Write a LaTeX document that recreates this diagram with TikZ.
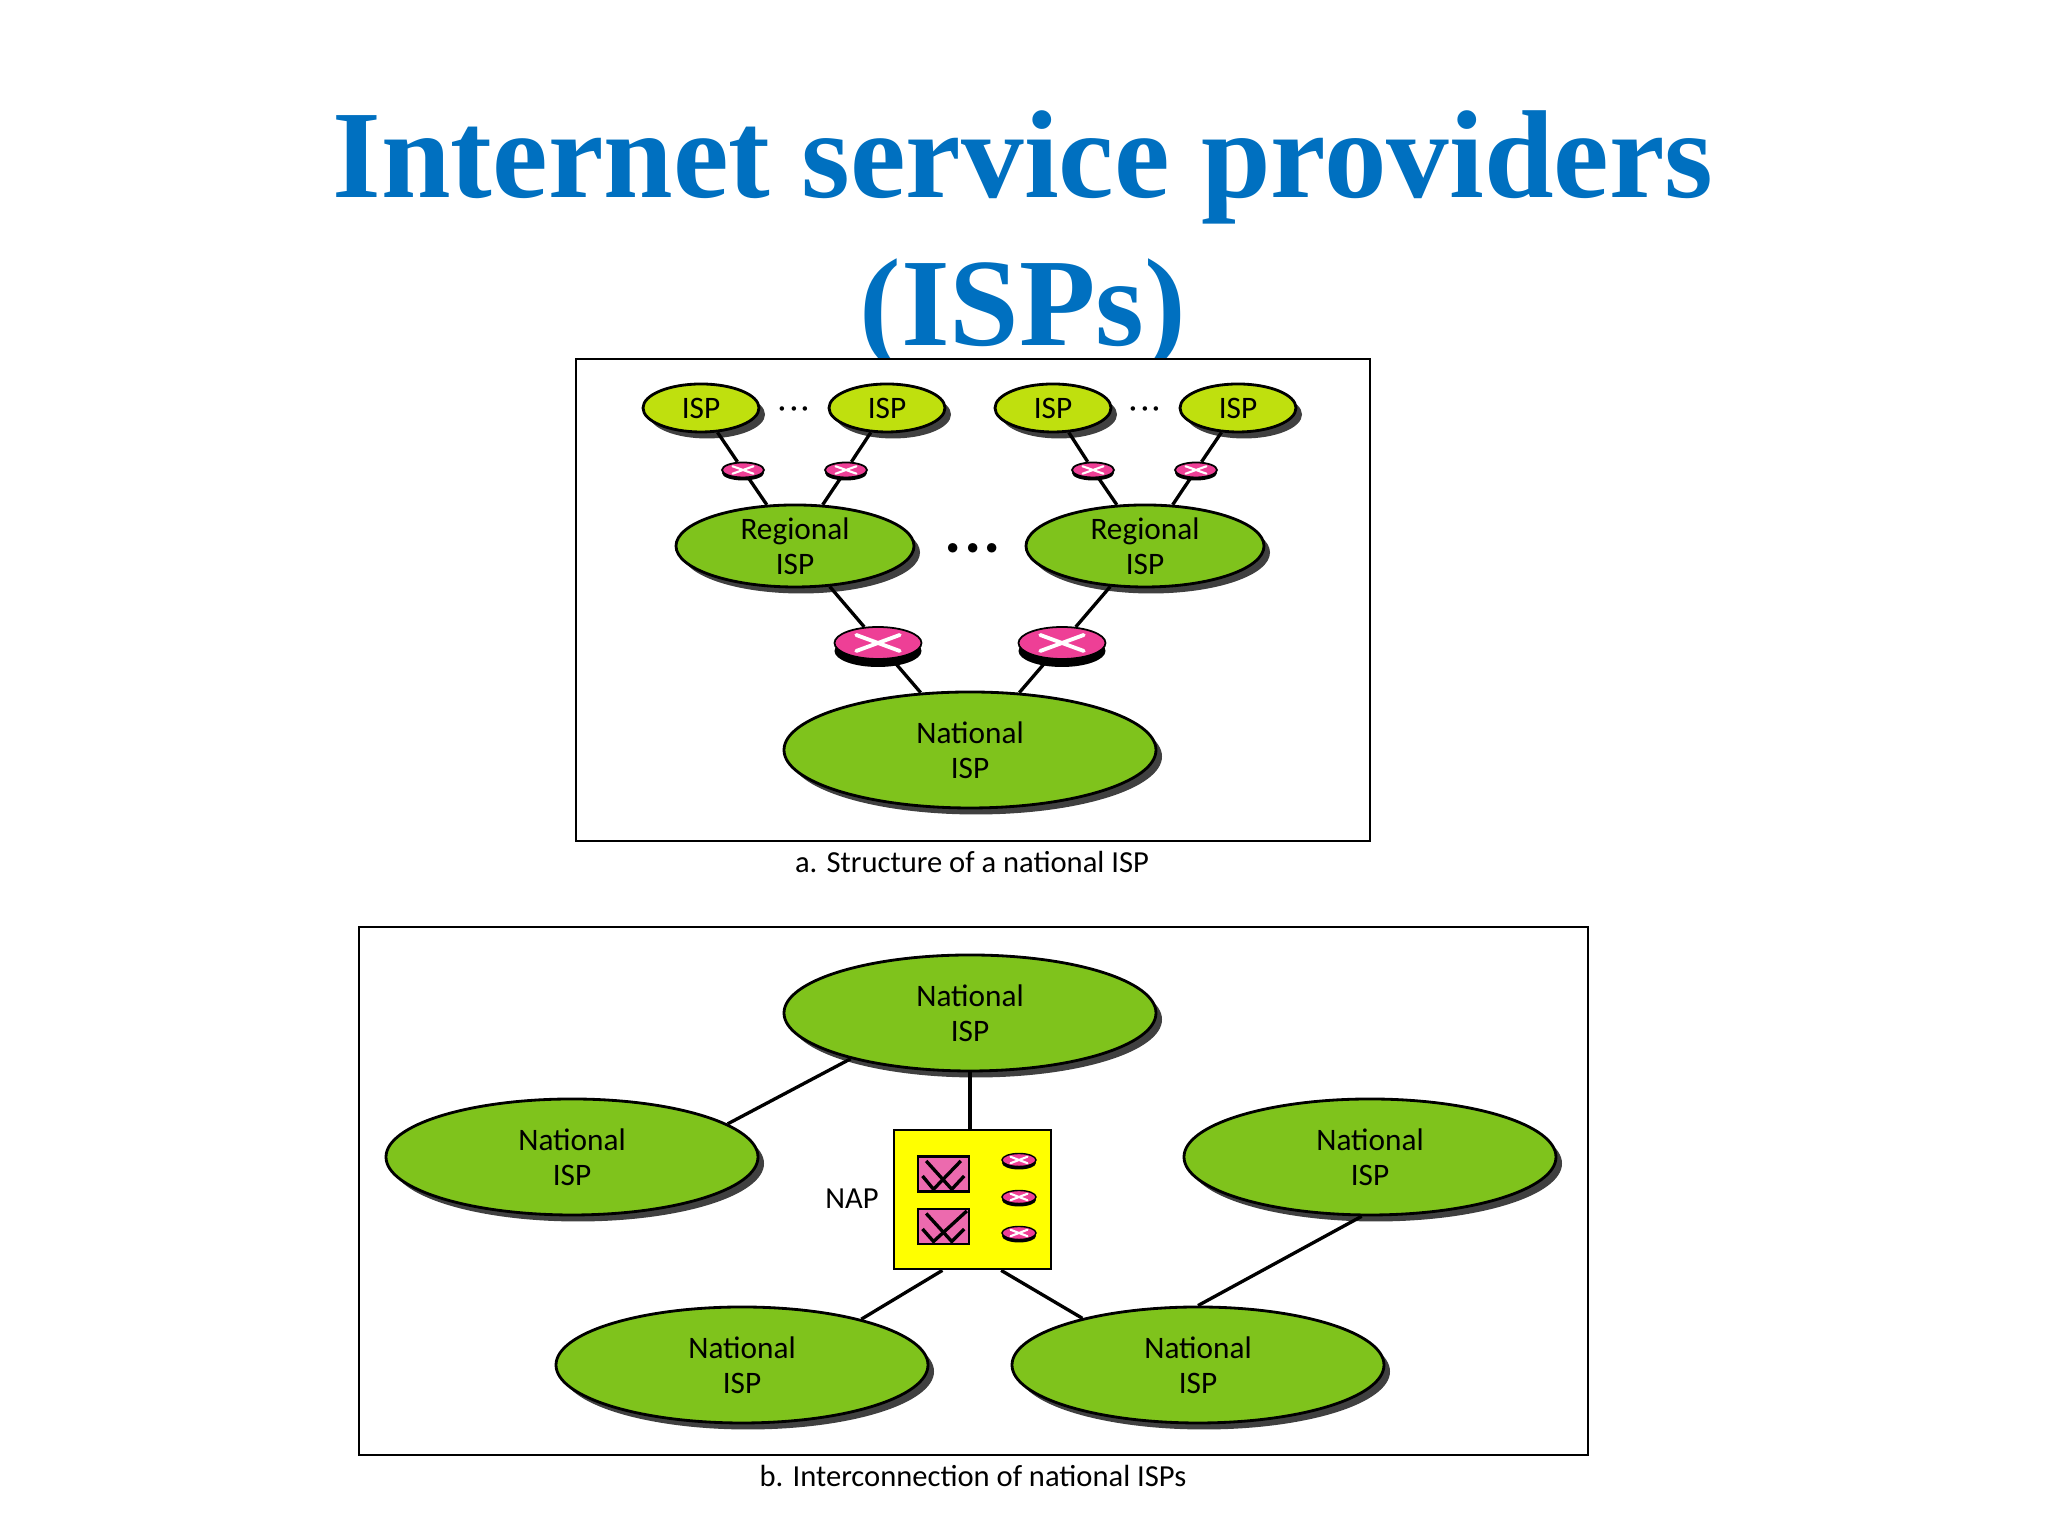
\documentclass[tikz,border=0pt]{standalone}
\usepackage{fontspec}
\setmainfont{Carlito}
\newfontfamily\titlefont{Liberation Serif}
\usetikzlibrary{shapes.geometric,shadows,calc}
\definecolor{titleblue}{HTML}{0070C0}
\definecolor{ispgreen}{HTML}{7FC31C}
\definecolor{limegreen}{HTML}{BFE00E}
\definecolor{rosepink}{HTML}{EE3F96}
\definecolor{boxpink}{HTML}{EC6AAE}
\definecolor{napyellow}{HTML}{FFFF00}
\tikzset{
  panel/.style={shape=rectangle, draw=black, fill=white, line width=0.7pt, inner sep=0pt},
  figlabel/.style={font=\fontsize{8.7}{10}\selectfont},
  headline/.style={text=titleblue, font=\titlefont\bfseries\fontsize{35.6}{36}\selectfont},
  ispshape/.style={shape=ellipse, draw=black, line width=0.8pt, inner sep=0pt, align=center, font=\fontsize{8.9}{10}\selectfont, general shadow={shadow xshift=0.06cm, shadow yshift=-0.065cm, fill=black!75}},
  localisp/.style={ispshape, fill=limegreen, minimum width=1.16cm, minimum height=0.48cm},
  regional/.style={ispshape, fill=ispgreen, minimum width=2.38cm, minimum height=0.82cm},
  national/.style={ispshape, fill=ispgreen, minimum width=3.72cm, minimum height=1.16cm},
  crossed/.style={path picture={\draw[white, line cap=round, line width=#1] ($(path picture bounding box.north west)!.25!(path picture bounding box.south east)$) -- ($(path picture bounding box.north west)!.75!(path picture bounding box.south east)$) ($(path picture bounding box.south west)!.25!(path picture bounding box.north east)$) -- ($(path picture bounding box.south west)!.75!(path picture bounding box.north east)$);}},
  smallrouter/.style={shape=ellipse, draw=black, line width=0.5pt, fill=rosepink, inner sep=0pt, minimum width=0.42cm, minimum height=0.15cm, crossed=0.6pt, general shadow={shadow yshift=-0.03cm, fill=black}},
  bigrouter/.style={shape=ellipse, draw=black, line width=0.5pt, fill=rosepink, inner sep=0pt, minimum width=0.87cm, minimum height=0.32cm, crossed=1.1pt, general shadow={shadow yshift=-0.08cm, fill=black}},
  naprouter/.style={shape=ellipse, draw=black, line width=0.4pt, fill=rosepink, inner sep=0pt, minimum width=0.34cm, minimum height=0.13cm, crossed=0.6pt, general shadow={shadow yshift=-0.03cm, fill=black}},
  switchbox/.style={shape=rectangle, draw=black, line width=0.8pt, fill=boxpink, inner sep=0pt, minimum width=0.51cm, minimum height=0.35cm},
  link/.style={line width=0.95pt, draw=black},
  dotsrow/.style={inner sep=0pt}
}
\begin{document}
\begin{tikzpicture}
\useasboundingbox (0,0) rectangle (20.48,15.36);
\node[headline] (title1) at (10.23,13.69) {Internet service providers};
\node[headline] (title2) at (10.23,12.21) {(ISPs)};
\node[panel, minimum width=7.94cm, minimum height=4.82cm] (boxa) at (9.73,9.36) {};
\node[panel, minimum width=12.29cm, minimum height=5.28cm] (boxb) at (9.735,3.45) {};
\node[figlabel] (capa) at (9.72,6.74) {a. Structure of a national ISP};
\node[figlabel] (capb) at (9.73,0.60) {b. Interconnection of national ISPs};
\node[localisp] (isp1) at (7.01,11.28) {ISP};
\node[localisp] (isp2) at (8.87,11.28) {ISP};
\node[localisp] (isp3) at (10.53,11.28) {ISP};
\node[localisp] (isp4) at (12.38,11.28) {ISP};
\node[dotsrow, font=\fontsize{12}{12}\selectfont] (dots1) at (7.94,11.26) {${\cdot}{\cdot}{\cdot}$};
\node[dotsrow, font=\fontsize{12}{12}\selectfont] (dots2) at (11.45,11.26) {${\cdot}{\cdot}{\cdot}$};
\node[smallrouter] (rt1) at (7.43,10.66) {};
\node[smallrouter] (rt2) at (8.46,10.66) {};
\node[smallrouter] (rt3) at (10.93,10.66) {};
\node[smallrouter] (rt4) at (11.96,10.66) {};
\node[regional] (reg1) at (7.95,9.90) {Regional\\ISP};
\node[regional] (reg2) at (11.45,9.90) {Regional\\ISP};
\node[dotsrow, font=\fontsize{16}{16}\selectfont\boldmath] (dots3) at (9.73,9.87) {${\cdot}{\cdot}{\cdot}$};
\node[bigrouter] (rt5) at (8.78,8.93) {};
\node[bigrouter] (rt6) at (10.62,8.93) {};
\node[national] (nat) at (9.70,7.86) {National\\ISP};
\node[national] (ntop) at (9.70,5.23) {National\\ISP};
\node[national] (nleft) at (5.72,3.79) {National\\ISP};
\node[national] (nright) at (13.70,3.79) {National\\ISP};
\node[national] (nbl) at (7.42,1.71) {National\\ISP};
\node[national] (nbr) at (11.98,1.71) {National\\ISP};
\node[shape=rectangle, draw=black, line width=0.8pt, fill=napyellow, minimum width=1.57cm, minimum height=1.39cm] (nap) at (9.725,3.365) {};
\node[figlabel] (naplabel) at (8.52,3.37) {NAP};
\node[switchbox] (sw1) at (9.435,3.62) {};
\node[switchbox] (sw2) at (9.435,3.095) {};
\node[naprouter] (rt7) at (10.19,3.76) {};
\node[naprouter] (rt8) at (10.19,3.39) {};
\node[naprouter] (rt9) at (10.19,3.03) {};
\draw[link] ([shift={(-0.173,0.13)}]sw1.center) -- ([shift={(0.083,-0.153)}]sw1.center) -- ([shift={(0.207,-0.02)}]sw1.center);
\draw[link] ([shift={(0.173,0.13)}]sw1.center) -- ([shift={(-0.10,-0.153)}]sw1.center) -- ([shift={(-0.21,-0.02)}]sw1.center);
\draw[link] ([shift={(-0.173,0.13)}]sw2.center) -- ([shift={(0.083,-0.15)}]sw2.center) -- ([shift={(0.207,-0.025)}]sw2.center);
\draw[link] ([shift={(0.233,0.155)}]sw2.center) -- ([shift={(-0.10,-0.15)}]sw2.center) -- ([shift={(-0.21,-0.025)}]sw2.center);
\path [-,link] (isp1) edge (rt1);
\path [-,link] (isp2) edge (rt2);
\path [-,link] (isp3) edge (rt3);
\path [-,link] (isp4) edge (rt4);
\path [-,link] (rt1) edge (reg1);
\path [-,link] (rt2) edge (reg1);
\path [-,link] (rt3) edge (reg2);
\path [-,link] (rt4) edge (reg2);
\path [-,link] (reg1) edge (rt5);
\path [-,link] (reg2) edge (rt6);
\path [-,link] (rt5) edge (nat);
\path [-,link] (rt6) edge (nat);
\path [-,link] (ntop.201) edge (nleft.12);
\path [-,link] (ntop.south) edge (ntop.south |- nap.north);
\path [-,link] (nap.247) edge (nbl.21);
\path [-,link] (nap.292) edge (nbr.158);
\path [-,link] (nright.262) edge (nbr.north);
\end{tikzpicture}
\end{document}
